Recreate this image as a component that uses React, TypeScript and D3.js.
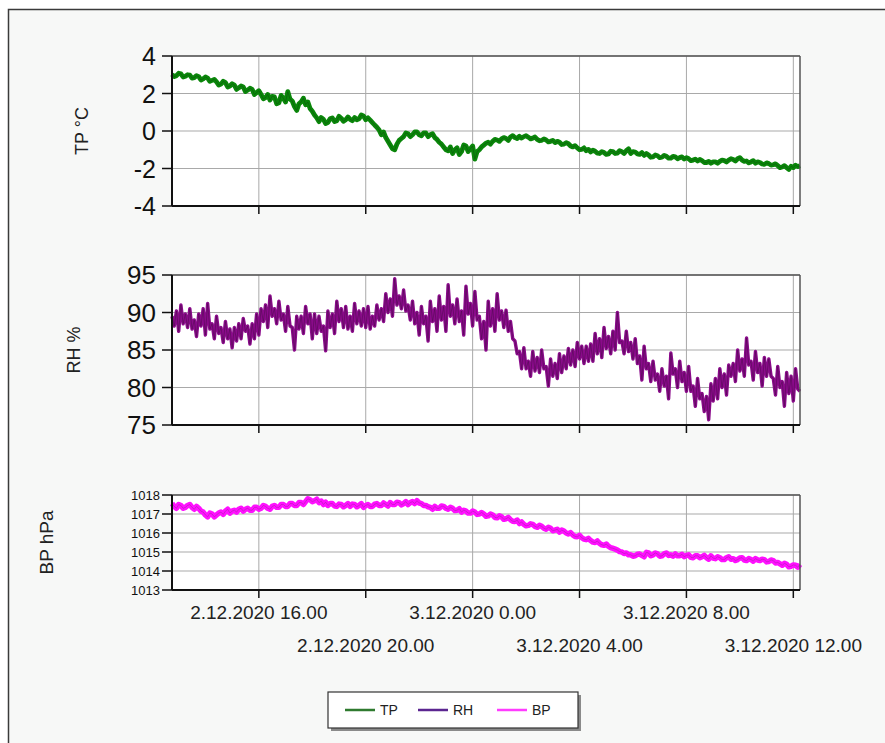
import React, { useMemo } from 'react';
import * as d3 from 'd3';

// 5-minute samples starting 2.12.2020 12:45
const START = new Date(2020, 11, 2, 12, 45);
const END = new Date(2020, 11, 3, 12, 15);
const STEP_MIN = 5;

const tpValues = [
  3.02, 2.9, 2.95, 3.08, 3.05, 2.88, 2.92, 3.0, 2.98, 2.82, 2.85, 2.95, 2.9, 2.72, 2.78, 2.88, 2.82, 2.65, 2.7, 2.75,
  2.62, 2.45, 2.5, 2.65, 2.58, 2.35, 2.4, 2.52, 2.45, 2.22, 2.3, 2.4, 2.35, 2.1, 2.18, 2.28, 2.22, 1.95, 2.05, 2.15,
  1.95, 1.72, 1.78, 1.95, 1.65, 1.85, 1.82, 1.45, 1.5, 1.9, 1.75, 1.55, 2.1, 1.7, 1.6, 1.3, 1.1, 1.45, 1.55, 1.75,
  1.4, 1.55, 1.2, 1.05, 0.85, 0.7, 0.5, 0.72, 0.62, 0.4, 0.45, 0.65, 0.7, 0.5, 0.55, 0.78, 0.68, 0.52, 0.6, 0.75,
  0.62, 0.55, 0.72, 0.6, 0.65, 0.85, 0.8, 0.6, 0.7, 0.58, 0.45, 0.32, 0.2, 0.05, -0.2, -0.05, -0.35, -0.55, -0.75, -0.95,
  -1.0, -0.7, -0.5, -0.4, -0.3, -0.1, -0.15, -0.3, -0.2, -0.05, -0.05, -0.2, -0.25, -0.1, -0.1, -0.3, -0.2, -0.15, -0.35, -0.45,
  -0.6, -0.7, -0.85, -1.0, -1.05, -0.85, -1.2, -1.0, -0.9, -1.25, -1.1, -0.75, -0.8, -1.1, -0.95, -0.8, -1.5, -1.1, -1.0, -0.85,
  -0.75, -0.65, -0.6, -0.7, -0.55, -0.45, -0.48, -0.55, -0.42, -0.35, -0.4, -0.5, -0.32, -0.25, -0.35, -0.4, -0.28, -0.38, -0.3, -0.25,
  -0.33, -0.42, -0.38, -0.32, -0.45, -0.52, -0.5, -0.42, -0.48, -0.58, -0.55, -0.5, -0.62, -0.55, -0.6, -0.72, -0.7, -0.62, -0.68, -0.8,
  -0.85, -0.78, -0.9, -1.0, -0.98, -0.9, -1.05, -0.98, -1.12, -1.02, -1.08, -1.18, -1.2, -1.1, -1.15, -1.25, -1.22, -1.08, -1.1, -1.2,
  -1.18, -1.05, -1.1, -1.2, -1.05, -0.95, -1.2, -1.1, -1.12, -1.22, -1.25, -1.15, -1.3, -1.2, -1.28, -1.4, -1.38, -1.28, -1.32, -1.42,
  -1.4, -1.3, -1.35, -1.45, -1.45, -1.35, -1.38, -1.48, -1.42, -1.38, -1.5, -1.42, -1.48, -1.58, -1.55, -1.5, -1.6, -1.52, -1.58, -1.68,
  -1.68, -1.62, -1.72, -1.65, -1.65, -1.72, -1.62, -1.55, -1.58, -1.65, -1.55, -1.48, -1.52, -1.6, -1.48, -1.42, -1.55, -1.62, -1.6, -1.7,
  -1.65, -1.58, -1.72, -1.65, -1.68, -1.76, -1.78, -1.7, -1.74, -1.82, -1.8, -1.75, -1.85, -1.95, -1.92, -1.85, -1.95, -2.05, -1.88, -1.95,
  -1.82, -1.9, -1.85,
];

const rhValues = [
  89.5, 88.2, 90.2, 87.5, 91, 88.5, 89.8, 88, 90.5, 87.8, 89, 86.8, 89.8, 88.2, 90.5, 87, 91.2, 87.8, 88.5, 86.5,
  89.5, 87.2, 88, 86, 88.8, 86.5, 87.8, 85.3, 88, 86.2, 88.5, 86.5, 89.2, 87.5, 88.2, 85.8, 88.5, 86.5, 89.8, 87,
  90.5, 88.8, 91, 88, 92.2, 89.5, 90.5, 88.5, 91.5, 89, 89.8, 87.5, 90.8, 88.2, 88, 85, 89.5, 87.8, 89.5, 87.2,
  90.8, 88.5, 89.8, 86.5, 89.8, 87.2, 89.5, 87.5, 88.2, 84.9, 90.2, 88, 89.8, 87.2, 91.5, 88.8, 90.5, 88, 90.8, 87.8,
  89.5, 87.5, 91.2, 88.5, 90.2, 88.2, 90.5, 88, 90.8, 87.8, 89.5, 88.2, 91, 89, 90.5, 88.8, 92.5, 90, 91.8, 89.5,
  94.5, 91, 92.2, 90.5, 93, 90.2, 91, 89, 91.5, 88.5, 90, 87, 90.8, 88.5, 89.5, 86.2, 91.5, 88.8, 90.5, 87.5,
  92.2, 89, 90.8, 87.5, 93.7, 89.5, 91, 88.5, 91.8, 88.8, 90.2, 87, 93.5, 89.8, 91.2, 88.2, 92.8, 89, 89.5, 86.5,
  88.8, 85, 91.5, 88.2, 90.5, 87.5, 92.5, 89, 90.2, 88, 90.3, 87.5, 88.8, 86.5, 86.2, 84.5, 84.8, 82.5, 85.3, 82.5,
  83.5, 81.5, 84.8, 82.2, 84, 82, 85, 82.5, 82.8, 80.2, 83.8, 81.5, 83.2, 81.2, 84.5, 82, 84.2, 82.5, 85.2, 83,
  85, 82.8, 86, 83.8, 85.5, 83.2, 85.5, 83.5, 85.8, 83.5, 87.2, 84.5, 86.5, 84, 88, 85.2, 86.8, 84.5, 87.5, 85,
  90, 86, 86.2, 84.5, 87.5, 84.8, 86, 83.8, 86.5, 83.2, 84.2, 81, 85.5, 82.5, 83.2, 80.8, 83.5, 81, 81.8, 79.5,
  82.5, 80.2, 81.5, 78.5, 84.6, 81.8, 82.5, 80, 83.5, 80.8, 82, 79.5, 82.8, 79.5, 80.2, 77.5, 81.2, 78.5, 79.2, 76.8,
  78.8, 75.7, 80.5, 78.2, 81.2, 78.5, 82.5, 80, 81.8, 79, 83, 81.5, 83.2, 80.8, 85, 82.2, 83.8, 81.5, 86.6, 83,
  83.5, 81, 84.8, 82, 83.2, 80.2, 84, 81.5, 83.8, 81.5, 81.2, 79, 82.8, 80, 80.8, 77.5, 82, 79.2, 81.5, 78.2,
  82.5, 79.8, 79.5,
];

const bpValues = [
  1017.55, 1017.4, 1017.3, 1017.5, 1017.45, 1017.3, 1017.35, 1017.45, 1017.5, 1017.35, 1017.25, 1017.4, 1017.3, 1017.15, 1017.1, 1016.95, 1016.85, 1017.05, 1017.0, 1016.85,
  1016.95, 1017.05, 1017.1, 1016.98, 1017.15, 1017.25, 1017.05, 1017.15, 1017.2, 1017.1, 1017.25, 1017.3, 1017.15, 1017.25, 1017.3, 1017.2, 1017.2, 1017.35, 1017.35, 1017.25,
  1017.3, 1017.45, 1017.4, 1017.3, 1017.25, 1017.4, 1017.45, 1017.35, 1017.35, 1017.5, 1017.5, 1017.4, 1017.4, 1017.55, 1017.55, 1017.45, 1017.45, 1017.6, 1017.6, 1017.5,
  1017.65, 1017.8, 1017.75, 1017.65, 1017.7, 1017.78, 1017.6, 1017.68, 1017.5, 1017.62, 1017.45, 1017.55, 1017.55, 1017.42, 1017.4, 1017.52, 1017.5, 1017.38, 1017.45, 1017.55,
  1017.4, 1017.52, 1017.5, 1017.38, 1017.45, 1017.55, 1017.35, 1017.45, 1017.5, 1017.4, 1017.4, 1017.52, 1017.55, 1017.45, 1017.45, 1017.58, 1017.5, 1017.42, 1017.6, 1017.5,
  1017.5, 1017.62, 1017.6, 1017.48, 1017.55, 1017.65, 1017.5, 1017.6, 1017.65, 1017.55, 1017.7, 1017.58, 1017.55, 1017.45, 1017.45, 1017.38, 1017.35, 1017.25, 1017.4, 1017.3,
  1017.3, 1017.42, 1017.4, 1017.3, 1017.25, 1017.35, 1017.3, 1017.18, 1017.2, 1017.28, 1017.1, 1017.2, 1017.15, 1017.05, 1017.05, 1017.15, 1017.1, 1016.98, 1017.0, 1017.08,
  1017.0, 1016.88, 1016.9, 1017.0, 1016.95, 1016.82, 1016.8, 1016.9, 1016.85, 1016.72, 1016.75, 1016.82, 1016.7, 1016.62, 1016.6, 1016.68, 1016.5, 1016.58, 1016.45, 1016.38,
  1016.4, 1016.48, 1016.45, 1016.35, 1016.3, 1016.4, 1016.35, 1016.25, 1016.2, 1016.3, 1016.25, 1016.12, 1016.15, 1016.2, 1016.05, 1016.15, 1016.1, 1016.0, 1015.95, 1016.02,
  1015.9, 1015.82, 1015.8, 1015.88, 1015.75, 1015.68, 1015.65, 1015.72, 1015.6, 1015.52, 1015.5, 1015.58, 1015.45, 1015.38, 1015.35, 1015.42, 1015.3, 1015.22, 1015.2, 1015.15,
  1015.1, 1015.02, 1015.0, 1014.92, 1014.95, 1014.85, 1014.85, 1014.78, 1014.8, 1014.88, 1014.9, 1014.82, 1014.75, 1014.98, 1014.95, 1014.8, 1014.85, 1014.95, 1014.9, 1014.78,
  1014.8, 1014.9, 1014.95, 1014.82, 1014.85, 1014.78, 1014.9, 1014.8, 1014.8, 1014.88, 1014.75, 1014.82, 1014.85, 1014.72, 1014.7, 1014.8, 1014.8, 1014.7, 1014.75, 1014.82,
  1014.7, 1014.62, 1014.8, 1014.68, 1014.65, 1014.75, 1014.7, 1014.6, 1014.6, 1014.7, 1014.75, 1014.62, 1014.65, 1014.55, 1014.6, 1014.68, 1014.7, 1014.58, 1014.55, 1014.65,
  1014.6, 1014.52, 1014.65, 1014.58, 1014.55, 1014.62, 1014.6, 1014.48, 1014.5, 1014.58, 1014.55, 1014.42, 1014.45, 1014.38, 1014.3, 1014.4, 1014.35, 1014.22, 1014.25, 1014.32,
  1014.3, 1014.2, 1014.35,
];

const tpTicks = [-4, -2, 0, 2, 4];
const rhTicks = [75, 80, 85, 90, 95];
const bpTicks = [1013, 1014, 1015, 1016, 1017, 1018];

const legendItems = [
  { name: 'TP', color: '#2f7a2f' },
  { name: 'RH', color: '#5b2590' },
  { name: 'BP', color: '#ff3cff' },
];

const FONT = '"Liberation Sans", Arial, sans-serif';
const W = 885;
const H = 743;
const X0 = 172;
const X1 = 800;

const panels = [
  { key: 'TP', values: tpValues, domain: [-4, 4], ticks: tpTicks, top: 56, bottom: 206, color: '#0a860a', dark: '#0b4f0b', width: 4.8, title: 'TP °C', titleX: 88, tickFont: 25 },
  { key: 'RH', values: rhValues, domain: [75, 95], ticks: rhTicks, top: 275, bottom: 425, color: '#8a0a8a', dark: '#4a0a4a', width: 3.4, title: 'RH %', titleX: 80, tickFont: 26 },
  { key: 'BP', values: bpValues, domain: [1013, 1018], ticks: bpTicks, top: 495, bottom: 590, color: '#ff10ff', dark: '#a020a0', width: 5.5, title: 'BP hPa', titleX: 53, tickFont: 13 },
];

const fmt = d3.timeFormat('%-d.%-m.%Y %-H.%M');

export default function App() {
  const x = useMemo(() => d3.scaleTime().domain([START, END]).range([X0, X1]), []);
  const xTicks = x.ticks(d3.timeHour.every(4));

  return (
    <svg width={W} height={H} style={{ position: 'absolute', left: 0, top: 0, display: 'block' }} fontFamily={FONT}>
      <rect x={0} y={0} width={W} height={H} fill="#ffffff" />
      <rect x={8.5} y={9.5} width={W + 10} height={H + 10} fill="#f7f8f7" stroke="#3a3a3a" strokeWidth={1.5} />

      {panels.map(p => {
        const y = d3.scaleLinear().domain(p.domain).range([p.bottom, p.top]);
        const pts = p.values.map((v, i) => [d3.timeMinute.offset(START, i * STEP_MIN), v] as [Date, number]);
        const line = d3.line<[Date, number]>().x(d => x(d[0])).y(d => y(d[1]));
        const d = line(pts) || '';
        return (
          <g key={p.key}>
            <rect x={X0} y={p.top} width={X1 - X0} height={p.bottom - p.top} fill="#ffffff" />
            {/* grid */}
            {p.ticks.map(t => (
              <line key={'h' + t} x1={X0} x2={X1} y1={y(t)} y2={y(t)} stroke="#a9a9a9" strokeWidth={1} />
            ))}
            {xTicks.map(t => (
              <line key={'v' + t.getTime()} x1={x(t)} x2={x(t)} y1={p.top} y2={p.bottom} stroke="#a9a9a9" strokeWidth={1} />
            ))}
            {/* series */}
            <path d={d} fill="none" stroke={p.color} strokeWidth={p.width} strokeLinejoin="round" />
            <path d={d} fill="none" stroke={p.dark} strokeWidth={0.9} opacity={0.55} />
            {/* frame */}
            <line x1={X0} x2={X1} y1={p.top} y2={p.top} stroke="#555" strokeWidth={1.5} />
            <line x1={X1} x2={X1} y1={p.top} y2={p.bottom} stroke="#555" strokeWidth={1.5} />
            <line x1={X0} x2={X0} y1={p.top} y2={p.bottom} stroke="#111" strokeWidth={2} />
            <line x1={X0} x2={X1} y1={p.bottom} y2={p.bottom} stroke="#111" strokeWidth={2} />
            {/* y ticks */}
            {p.ticks.map(t => (
              <g key={'yt' + t}>
                <line x1={X0 - 10} x2={X0} y1={y(t)} y2={y(t)} stroke="#111" strokeWidth={1.5} />
                <text x={p.key === 'BP' ? 160 : 156} y={y(t)} dy="0.36em" textAnchor="end" fontSize={p.tickFont} fill="#111">
                  {t}
                </text>
              </g>
            ))}
            {/* x ticks */}
            {xTicks.map(t => (
              <line key={'xt' + t.getTime()} x1={x(t)} x2={x(t)} y1={p.bottom} y2={p.bottom + 8} stroke="#111" strokeWidth={1.5} />
            ))}
            <text
              transform={`translate(${p.titleX},${(p.top + p.bottom) / 2}) rotate(-90)`}
              textAnchor="middle"
              fontSize={p.key === 'BP' ? 19 : 18}
              fill="#222"
            >
              {p.title}
            </text>
          </g>
        );
      })}

      {/* x labels, alternating rows */}
      {xTicks.map((t, i) => (
        <text key={'xl' + t.getTime()} x={x(t)} y={i % 2 === 0 ? 619 : 652} textAnchor="middle" fontSize={19} fill="#222">
          {fmt(t)}
        </text>
      ))}

      {/* legend */}
      <g>
        <rect x={331} y={695} width={250} height={36} fill="#8a8a8a" />
        <rect x={328} y={692} width={250} height={36} fill="#ffffff" stroke="#333" strokeWidth={1.2} />
        {legendItems.map((it, i) => {
          const lx = [345, 418, 497][i];
          return (
            <g key={it.name}>
              <line x1={lx} x2={lx + 30} y1={710} y2={710} stroke={it.color} strokeWidth={2.5} />
              <text x={lx + 35} y={715} fontSize={14} fill="#222">{it.name}</text>
            </g>
          );
        })}
      </g>
    </svg>
  );
}
